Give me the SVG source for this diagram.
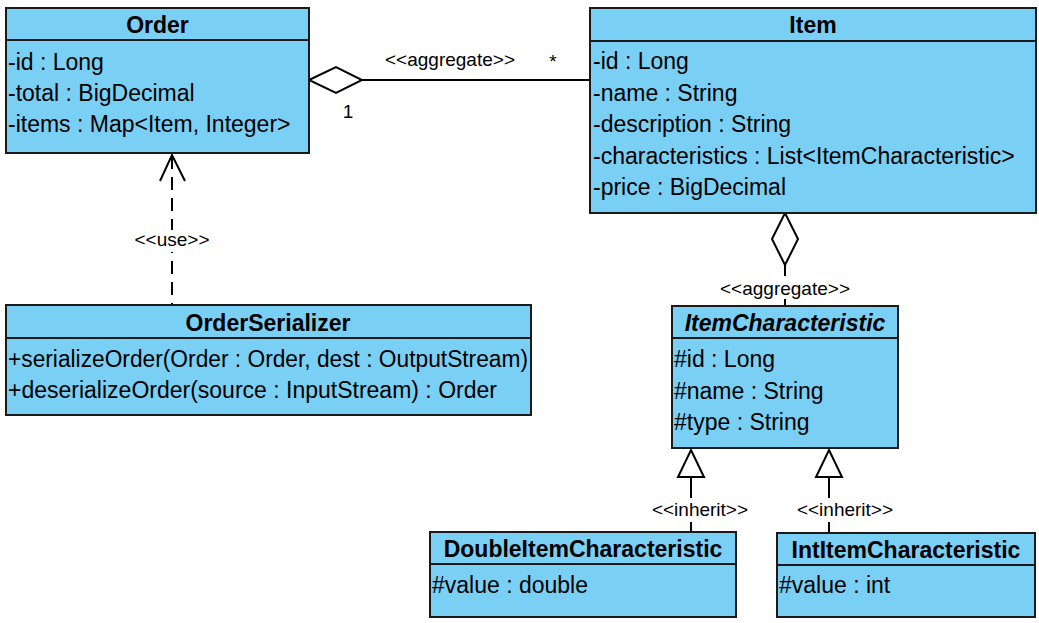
<svg xmlns="http://www.w3.org/2000/svg" width="1039" height="623" viewBox="0 0 1039 623">
<style>
.box{fill:#7ACFF5;stroke:#1a1a1a;stroke-width:2}
.sep{stroke:#1a1a1a;stroke-width:2}
.t{font-family:"Liberation Sans",Arial,sans-serif;font-size:23px;fill:#000}
.h{font-family:"Liberation Sans",Arial,sans-serif;font-size:23px;font-weight:bold;fill:#000;text-anchor:middle}
.lbl{font-family:"Liberation Sans",Arial,sans-serif;font-size:19px;fill:#000;text-anchor:middle}
.ln{stroke:#000;stroke-width:2;fill:none}
.hd{stroke:#000;stroke-width:2;fill:#fff}
</style>
<rect width="1039" height="623" fill="#fff"/>
<g id="connectors">
  <line class="ln" x1="362" y1="80" x2="590" y2="80"/>
  <polygon class="hd" points="309,80 336,67 362,80 336,93"/>
  <text class="lbl" x="450" y="66">&lt;&lt;aggregate&gt;&gt;</text>
  <text class="lbl" x="553" y="68">*</text>
  <text class="lbl" x="348" y="118">1</text>

  <line class="ln" x1="172" y1="156" x2="172" y2="305" stroke-dasharray="13,8"/>
  <polyline class="ln" points="160,181 172,155 185,181"/>
  <rect x="134" y="230" width="76" height="22" fill="#fff"/>
  <text class="lbl" x="172" y="246">&lt;&lt;use&gt;&gt;</text>

  <line class="ln" x1="785" y1="265" x2="785" y2="306"/>
  <polygon class="hd" points="785,213 798,239 785,265 772,239"/>
  <rect x="720" y="276" width="130" height="23" fill="#fff"/>
  <text class="lbl" x="785" y="295">&lt;&lt;aggregate&gt;&gt;</text>

  <line class="ln" x1="691" y1="477" x2="691" y2="532"/>
  <polygon class="hd" points="691,450 704,477 678,477"/>
  <rect x="650" y="498" width="100" height="24" fill="#fff"/>
  <text class="lbl" x="700" y="516">&lt;&lt;inherit&gt;&gt;</text>

  <line class="ln" x1="829" y1="477" x2="829" y2="533"/>
  <polygon class="hd" points="829,450 842,477 816,477"/>
  <rect x="795" y="498" width="100" height="24" fill="#fff"/>
  <text class="lbl" x="845" y="516">&lt;&lt;inherit&gt;&gt;</text>
</g>
<g id="Order">
  <rect class="box" x="6" y="8" width="303" height="145"/>
  <line class="sep" x1="6" y1="40" x2="309" y2="40"/>
  <text class="h" x="157.5" y="33">Order</text>
  <text class="t" x="8" y="70">-id : Long</text>
  <text class="t" x="8" y="101">-total : BigDecimal</text>
  <text class="t" x="8" y="132">-items : Map&lt;Item, Integer&gt;</text>
</g>
<g id="Item">
  <rect class="box" x="590" y="8" width="446" height="205"/>
  <line class="sep" x1="590" y1="41" x2="1036" y2="41"/>
  <text class="h" x="813" y="33">Item</text>
  <text class="t" x="593" y="69">-id : Long</text>
  <text class="t" x="593" y="100.5">-name : String</text>
  <text class="t" x="593" y="132">-description : String</text>
  <text class="t" x="593" y="163.5">-characteristics : List&lt;ItemCharacteristic&gt;</text>
  <text class="t" x="593" y="195">-price : BigDecimal</text>
</g>
<g id="OrderSerializer">
  <rect class="box" x="6" y="305" width="525" height="110"/>
  <line class="sep" x1="6" y1="338" x2="531" y2="338"/>
  <text class="h" x="268" y="331">OrderSerializer</text>
  <text class="t" x="8" y="367" textLength="520" lengthAdjust="spacingAndGlyphs">+serializeOrder(Order : Order, dest : OutputStream)</text>
  <text class="t" x="8" y="398">+deserializeOrder(source : InputStream) : Order</text>
</g>
<g id="ItemCharacteristic">
  <rect class="box" x="672" y="306" width="226" height="142"/>
  <line class="sep" x1="672" y1="338" x2="898" y2="338"/>
  <text class="h" x="785" y="331" font-style="italic">ItemCharacteristic</text>
  <text class="t" x="674" y="367">#id : Long</text>
  <text class="t" x="674" y="399">#name : String</text>
  <text class="t" x="674" y="430">#type : String</text>
</g>
<g id="DoubleItemCharacteristic">
  <rect class="box" x="430" y="532" width="306" height="85"/>
  <line class="sep" x1="430" y1="564" x2="736" y2="564"/>
  <text class="h" x="583" y="557">DoubleItemCharacteristic</text>
  <text class="t" x="432" y="593">#value : double</text>
</g>
<g id="IntItemCharacteristic">
  <rect class="box" x="777" y="533" width="258" height="84"/>
  <line class="sep" x1="777" y1="565" x2="1035" y2="565"/>
  <text class="h" x="906" y="558">IntItemCharacteristic</text>
  <text class="t" x="779" y="593">#value : int</text>
</g>
</svg>
